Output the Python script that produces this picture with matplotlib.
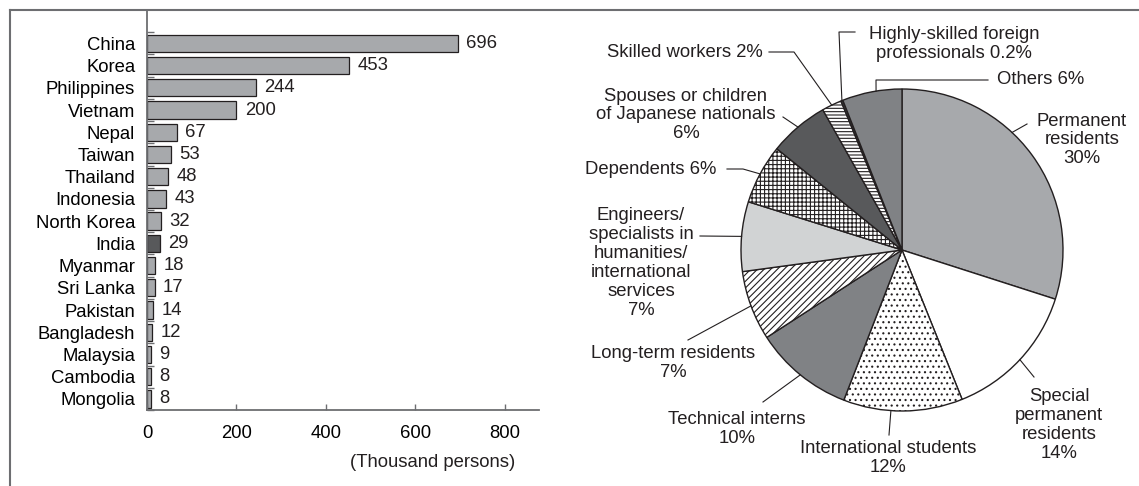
import matplotlib
matplotlib.use('Agg')
import matplotlib.pyplot as plt
from matplotlib.lines import Line2D
import numpy as np

plt.rcParams['font.family'] = ['Liberation Sans', 'DejaVu Sans']
plt.rcParams['text.color'] = '#231f20'
plt.rcParams['hatch.linewidth'] = 0.8

# left panel: foreign residents by nationality (thousand persons)
countries = ['China', 'Korea', 'Philippines', 'Vietnam', 'Nepal', 'Taiwan',
             'Thailand', 'Indonesia', 'North Korea', 'India', 'Myanmar',
             'Sri Lanka', 'Pakistan', 'Bangladesh', 'Malaysia', 'Cambodia',
             'Mongolia']
persons = [696, 453, 244, 200, 67, 53, 48, 43, 32, 29, 18, 17, 14, 12, 9, 8, 8]
highlight = 'India'

# right panel: residence status shares (%)
statuses = ['Permanent\nresidents', 'Special\npermanent\nresidents',
            'International students', 'Technical interns',
            'Long-term residents',
            'Engineers/\nspecialists in\nhumanities/\ninternational\nservices',
            'Dependents', 'Spouses or children\nof Japanese nationals',
            'Skilled workers', 'Highly-skilled foreign\nprofessionals', 'Others']
shares = [30, 14, 12, 10, 7, 7, 6, 6, 2, 0.2, 6]
share_text = ['30%', '14%', '12%', '10%', '7%', '7%', '6%', '6%', '2%', '0.2%', '6%']

W, H = 1139, 486
FS = 13.3
INK = '#231f20'
AXC = '#6d6e71'

fig = plt.figure(figsize=(W / 100, H / 100), dpi=100)


def box(x0, y0, x1, y1):
    # pixel box (top-left origin) -> figure fraction
    return [x0 / W, 1 - y1 / H, (x1 - x0) / W, (y1 - y0) / H]


# ---- bar chart ----
ax = fig.add_axes(box(147, 10, 539, 410))
y = np.arange(len(countries))
colors = ['#58595b' if c == highlight else '#a7a9ac' for c in countries]
ax.barh(y, persons, height=0.78, color=colors, edgecolor=INK, linewidth=0.9)
for yi, v in zip(y, persons):
    ax.annotate(str(v), (v, yi), xytext=(6, 0), textcoords='offset points',
                va='center', ha='left', fontsize=FS)
ax.set_xlim(0, 877)
ax.set_ylim(len(countries) - 0.5, -1.5)
ax.set_yticks(y)
ax.set_yticklabels(countries, fontsize=FS)
ax.set_yticks(np.arange(-0.5, len(countries)), minor=True)
ax.set_xticks([0, 200, 400, 600, 800])
ax.tick_params(axis='x', direction='in', length=4, width=1, color=AXC,
               labelsize=FS, pad=11)
ax.tick_params(axis='y', which='major', length=0, pad=8.5)
ax.tick_params(axis='y', which='minor', direction='in', length=5, width=1,
               color=AXC)
for s in ['top', 'right']:
    ax.spines[s].set_visible(False)
for s in ['left', 'bottom']:
    ax.spines[s].set_color(AXC)
    ax.spines[s].set_linewidth(1.3)
fig.text(433 / W, 1 - 462 / H, '(Thousand persons)', ha='center', va='center',
         fontsize=FS)

# ---- pie chart ----
CX, CY, R = 902, 250, 161
pax = fig.add_axes(box(CX - R, CY - R, CX + R, CY + R))
fills = ['#a7a9ac', 'white', 'white', '#808285', 'white', '#d1d3d4',
         'white', '#58595b', 'white', '#3a3a3c', '#808285']
hatches = [None, None, '...', None, '/////', None, '++++', None, '-----',
           None, None]
wedges, _ = pax.pie(shares, startangle=90, counterclock=False, radius=1,
                    colors=fills,
                    wedgeprops=dict(edgecolor=INK, linewidth=1))
for w, h in zip(wedges, hatches):
    if h:
        w.set_hatch(h)
pax.set_xlim(-1, 1)
pax.set_ylim(-1, 1)
pax.set_aspect('equal')
pax.axis('off')


def pd(p):
    # pixel -> pie data coords
    return ((p[0] - CX) / R, (CY - p[1]) / R)


# label layout in pixels: text centre, leader path, position along wedge
same_line = {'Dependents', 'Skilled workers', 'Others',
             'Highly-skilled foreign\nprofessionals'}
layout = [
    ((1082, 140), [(1027, 124)], 0.6),
    ((1059, 425), [(1034, 377)], 0.5),
    ((888, 458), [(889, 435)], 0.4),
    ((737, 429), [(763, 402)], 0.5),
    ((673, 363), [(688, 340)], 0.5),
    ((641, 263), [(700, 236)], 0.5),
    ((651, 169), [(743, 169), (727, 169)], 0.5),
    ((686, 115), [(783, 117)], 0.5),
    ((685, 53), [(794, 52), (769, 52)], 0.5),
    ((954, 44), [(839, 32), (855, 32)], 0.5),
    ((1041, 80), [(876, 80), (988, 80)], 0.43),
]
for w, name, pct, (tp, path, t) in zip(wedges, statuses, share_text, layout):
    sep = ' ' if name in same_line else '\n'
    tx, ty = pd(tp)
    pax.text(tx, ty, name + sep + pct, ha='center', va='center',
             fontsize=FS, linespacing=1.15, clip_on=False)
    ang = np.deg2rad(w.theta1 + t * (w.theta2 - w.theta1))
    pts = [(np.cos(ang), np.sin(ang))] + [pd(p) for p in path]
    xs, ys = zip(*pts)
    pax.plot(xs, ys, color=INK, lw=0.8, clip_on=False)

# frame lines (top and left)
fig.add_artist(Line2D([10 / W, 1], [1 - 10 / H] * 2, color=AXC, lw=1.5,
                      transform=fig.transFigure))
fig.add_artist(Line2D([10 / W, 10 / W], [0, 1 - 10 / H], color=AXC, lw=1.5,
                      transform=fig.transFigure))

fig.savefig('out.png', dpi=100)
